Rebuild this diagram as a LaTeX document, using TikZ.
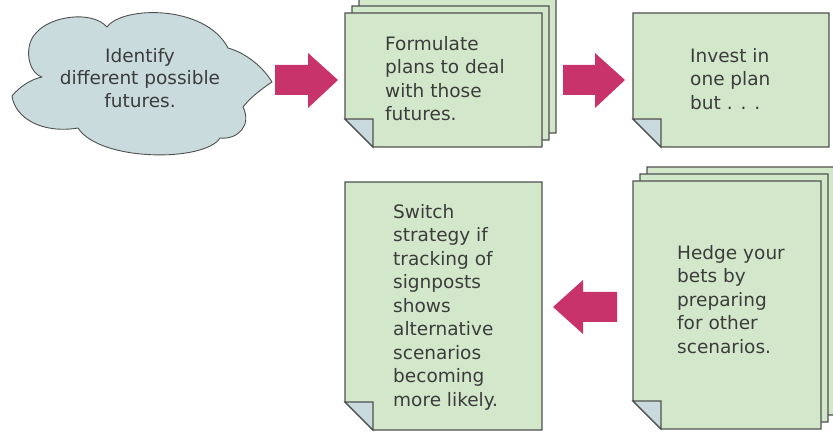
\documentclass[tikz,border=0pt]{standalone}
\usepackage{fontspec}
\setmainfont{DejaVu Sans}
\definecolor{cardfill}{HTML}{D3E7CB}
\definecolor{foldfill}{HTML}{C9DADE}
\definecolor{cloudfill}{HTML}{CADBDE}
\definecolor{edgegray}{HTML}{505050}
\definecolor{arrowpink}{HTML}{C8336A}
\definecolor{txtgray}{HTML}{3C3C3C}
\tikzset{
  cardstyle/.style={fill=cardfill, draw=edgegray, line width=1.1pt, line join=miter},
  foldstyle/.style={fill=foldfill, draw=edgegray, line width=1.1pt, line join=miter},
  cloudstyle/.style={fill=cloudfill, draw=edgegray, line width=0.9pt, line join=round},
  bigarrow/.style={fill=arrowpink},
  cardtext/.style={font=\fontsize{18.5}{23.5}\selectfont, align=left, inner sep=0pt, text=txtgray, anchor=north west},
  cloudtext/.style={font=\fontsize{18.5}{22.5}\selectfont, align=center, inner sep=0pt, text=txtgray, anchor=north},
}
% #1 left, #2 top, #3 right, #4 bottom
\newcommand\papercard[4]{%
  \filldraw[cardstyle] (#1,#2) -- (#3,#2) -- (#3,#4) -- ({#1+28},#4) -- (#1,{#4-28}) -- cycle;
  \filldraw[foldstyle] (#1,{#4-28}) -- ({#1+28},{#4-28}) -- ({#1+28},#4) -- cycle;
}
\begin{document}
\begin{tikzpicture}[x=1pt,y=-1pt]
\useasboundingbox (0,0) rectangle (833,438);
\fill[white] (0,0) rectangle (833,438);

% cloud
\filldraw[cloudstyle] (12,96)
  .. controls (20,86) and (32,79) .. (42,77)
  .. controls (27,72) and (24,45) .. (36,33)
  .. controls (50,16) and (92,10) .. (107,27)
  .. controls (122,6) and (205,4) .. (228,48)
  .. controls (246,53) and (263,67) .. (272,82)
  .. controls (260,90) and (250,98) .. (243,107)
  .. controls (252,125) and (238,140) .. (220,138)
  .. controls (205,162) and (100,162) .. (78,128)
  .. controls (42,134) and (15,118) .. (12,96) -- cycle;
\node[cloudtext] (identify) at (140,48) {Identify\\different possible\\futures.};

% card 1 (stack of three)
\papercard{359}{-1}{556}{133}
\papercard{352}{6}{549}{140}
\papercard{345}{13}{542}{147}
\node[cardtext] (formulate) at (385,36) {Formulate\\plans to deal\\with those\\futures.};

% card 2
\papercard{633}{13}{829}{147}
\node[cardtext] (invest) at (690,48) {Invest in\\one plan\\but . . .};

% card 3 (stack)
\papercard{647}{167}{835}{415}
\papercard{640}{174}{828}{422}
\papercard{633}{181}{821}{429}
\node[cardtext] (hedge) at (677,245) {Hedge your\\bets by\\preparing\\for other\\scenarios.};

% card 4
\papercard{345}{182}{542}{430}
\node[cardtext] (switch) at (393,204) {Switch\\strategy if\\tracking of\\signposts\\shows\\alternative\\scenarios\\becoming\\more likely.};

% arrows
\fill[bigarrow] (275,65) -- (308,65) -- (308,53) -- (338,80) -- (308,108) -- (308,95) -- (275,95) -- cycle;
\fill[bigarrow] (563,65) -- (595,65) -- (595,53) -- (625,80) -- (595,108) -- (595,95) -- (563,95) -- cycle;
\fill[bigarrow] (617,292) -- (583,292) -- (583,280) -- (553,307) -- (583,334) -- (583,322) -- (617,322) -- cycle;
\end{tikzpicture}
\end{document}
